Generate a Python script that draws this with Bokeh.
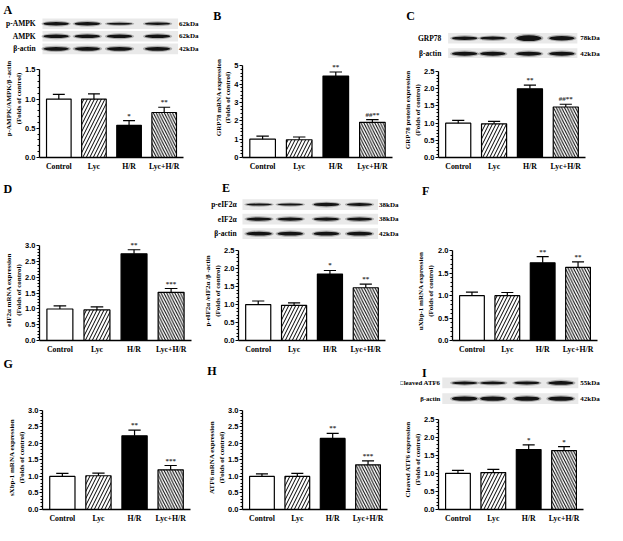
import math
from bokeh.plotting import figure
from bokeh.layouts import row, column
from bokeh.models import Range1d, FixedTicker, NumeralTickFormatter
from bokeh.embed import file_html
from bokeh.resources import INLINE
from bokeh.core.properties import value

# ---------------- data ----------------
categories = ["Control", "Lyc", "H/R", "Lyc+H/R"]

ampk_mean = [1.00, 1.00, 0.55, 0.77]
ampk_err = [0.08, 0.09, 0.08, 0.09]
ampk_sig = ["", "", "*", "**"]
ampk_ticks = [0.0, 0.5, 1.0, 1.5]

grp78_mrna_mean = [1.00, 0.97, 4.45, 1.92]
grp78_mrna_err = [0.17, 0.15, 0.22, 0.15]
grp78_mrna_sig = ["", "", "**", "##**"]
grp78_mrna_ticks = [0, 1, 2, 3, 4, 5]

grp78_prot_mean = [1.00, 0.98, 2.00, 1.47]
grp78_prot_err = [0.08, 0.07, 0.11, 0.08]
grp78_prot_sig = ["", "", "**", "##**"]
grp78_prot_ticks = [0.0, 0.5, 1.0, 1.5, 2.0, 2.5]

eif2a_mrna_mean = [1.00, 0.97, 2.75, 1.53]
eif2a_mrna_err = [0.10, 0.10, 0.13, 0.12]
eif2a_mrna_sig = ["", "", "**", "***"]
eif2a_mrna_ticks = [0.0, 0.5, 1.0, 1.5, 2.0, 2.5, 3.0]

peif2a_mean = [1.00, 0.98, 1.85, 1.47]
peif2a_err = [0.10, 0.07, 0.10, 0.10]
peif2a_sig = ["", "", "*", "**"]
peif2a_ticks = [0.0, 0.5, 1.0, 1.5, 2.0, 2.5]

uxbp1_mean = [1.00, 1.00, 1.73, 1.63]
uxbp1_err = [0.08, 0.07, 0.14, 0.12]
uxbp1_sig = ["", "", "**", "**"]
uxbp1_ticks = [0.0, 0.5, 1.0, 1.5, 2.0]

sxbp1_mean = [1.00, 1.02, 2.23, 1.20]
sxbp1_err = [0.09, 0.08, 0.17, 0.13]
sxbp1_sig = ["", "", "**", "***"]
sxbp1_ticks = [0.0, 0.5, 1.0, 1.5, 2.0, 2.5, 3.0]

atf6_mrna_mean = [1.00, 1.00, 2.15, 1.35]
atf6_mrna_err = [0.08, 0.09, 0.15, 0.12]
atf6_mrna_sig = ["", "", "**", "***"]
atf6_mrna_ticks = [0.0, 0.5, 1.0, 1.5, 2.0, 2.5, 3.0]

catf6_mean = [1.00, 1.02, 1.66, 1.63]
catf6_err = [0.08, 0.09, 0.13, 0.11]
catf6_sig = ["", "", "*", "*"]
catf6_ticks = [0.0, 0.5, 1.0, 1.5, 2.0, 2.5]

# western blot labels and band strengths (relative thickness)
blot_a_labels = ["p-AMPK", "AMPK", "β-actin"]
blot_a_kda = ["62kDa", "62kDa", "42kDa"]
blot_a_bands = [[3.5, 3.5, 2.0, 2.6], [3.6, 3.6, 3.6, 3.6], [4.0, 4.0, 4.0, 4.0]]

blot_c_labels = ["GRP78", "β-actin"]
blot_c_kda = ["78kDa", "42kDa"]
blot_c_bands = [[3.5, 3.3, 6.0, 4.5], [4.2, 4.2, 4.2, 4.2]]

blot_e_labels = ["p-eIF2α", "eIF2α", "β-actin"]
blot_e_kda = ["38kDa", "38kDa", "42kDa"]
blot_e_bands = [[2.0, 2.0, 3.5, 3.0], [3.5, 3.5, 3.5, 3.5], [4.0, 4.0, 4.0, 4.0]]

blot_i_labels = ["Cleaved ATF6", "β-actin"]
blot_i_kda = ["55kDa", "42kDa"]
blot_i_bands = [[3.0, 2.8, 3.2, 3.8], [4.5, 4.5, 4.5, 4.5]]

# ---------------- layout constants ----------------
SX = 607 / 623
SY = 525 / 541
COL_W = [205, 205, 213]
ROW_H = [178, 189, 174]
TOP_H = [60, 68, 50]
COL_PX = [200, 200, 207]
ROW_PX = [173, 183, 169]
TOP_PX = [round(t * SY) for t in TOP_H]

SERIF = "Liberation Serif"
SANS = "Liberation Sans"
NB = "\u00a0"

panels = [
    dict(letter="A", r=0, c=0, mean=ampk_mean, err=ampk_err, sig=ampk_sig, ticks=ampk_ticks,
         ylab=["p-AMPK/AMPK/β -actin", "(Folds of control)"], lift=12, frame=(40, 188, 72, 166),
         ystand=-1, lpos=(3, 3),
         blot=dict(labels=blot_a_labels, kda=blot_a_kda, bands=blot_a_bands, x0=43, x1=182,
                   ys=[24, 37, 50], lanes=[57, 89, 122, 161], lx=36, kx=183, lfs="7.5px")),
    dict(letter="B", r=0, c=1, mean=grp78_mrna_mean, err=grp78_mrna_err, sig=grp78_mrna_sig,
         ticks=grp78_mrna_ticks, ylab=["GRP78 mRNA expression", "(Folds of control)"], lift=12,
         frame=(43, 197, 68, 166), ystand=-1, lpos=(13, 9), blot=None),
    dict(letter="C", r=0, c=2, mean=grp78_prot_mean, err=grp78_prot_err, sig=grp78_prot_sig,
         ticks=grp78_prot_ticks, ylab=["GRP78 protein expression", "(Folds of control)"], lift=0,
         frame=(39, 190, 74, 168), ystand=-1, lpos=(6, 9),
         blot=dict(labels=blot_c_labels, kda=blot_c_kda, bands=blot_c_bands, x0=49, x1=182,
                   ys=[39, 55], lanes=[66, 95, 132, 166], lx=42, kx=185, lfs="7.5px")),
    dict(letter="D", r=1, c=0, mean=eif2a_mrna_mean, err=eif2a_mrna_err, sig=eif2a_mrna_sig,
         ticks=eif2a_mrna_ticks, ylab=["eIF2α mRNA expression", "(Folds of control)"], lift=0,
         frame=(40, 196, 75, 177), ystand=-1, lpos=(3, 9), blot=None),
    dict(letter="E", r=1, c=1, mean=peif2a_mean, err=peif2a_err, sig=peif2a_sig,
         ticks=peif2a_ticks, ylab=["p-eIF2α /eIF2α /β -actin", "(Folds of control)"], lift=0,
         frame=(39, 190, 80, 177), ystand=-1, lpos=(22, 8),
         blot=dict(labels=blot_e_labels, kda=blot_e_kda, bands=blot_e_bands, x0=43, x1=182,
                   ys=[32, 47, 62], lanes=[60, 92, 129, 163], lx=37, kx=183, lfs="7.5px")),
    dict(letter="F", r=1, c=2, mean=uxbp1_mean, err=uxbp1_err, sig=uxbp1_sig,
         ticks=uxbp1_ticks, ylab=["uXbp-1 mRNA expression", "(Folds of control)"], lift=0,
         frame=(53, 202, 80, 177), ystand=0, lpos=(22, 11), blot=None),
    dict(letter="G", r=2, c=0, mean=sxbp1_mean, err=sxbp1_err, sig=sxbp1_sig,
         ticks=sxbp1_ticks, ylab=["sXbp-1 mRNA expression", "(Folds of control)"], lift=0,
         frame=(43, 195, 55, 159), ystand=-1, lpos=(3, 1), blot=None),
    dict(letter="H", r=2, c=1, mean=atf6_mrna_mean, err=atf6_mrna_err, sig=atf6_mrna_sig,
         ticks=atf6_mrna_ticks, ylab=["ATF6 mRNA expression", "(Folds of control)"], lift=0,
         frame=(43, 192, 55, 159), ystand=-1, lpos=(7, 8), blot=None),
    dict(letter="I", r=2, c=2, mean=catf6_mean, err=catf6_err, sig=catf6_sig,
         ticks=catf6_ticks, ylab=["Cleaved ATF6 expression", "(Folds of control)"], lift=0,
         frame=(39, 188, 64, 158), ystand=-1, lpos=(22, 10),
         blot=dict(labels=blot_i_labels, kda=blot_i_kda, bands=blot_i_bands, x0=43, x1=183,
                   ys=[27, 43], lanes=[66, 95, 130, 165], lx=41, kx=185, lfs="6.8px")),
]

BAR_STYLES = [
    dict(fill_color="white"),
    dict(fill_color="white", hatch_pattern="/", hatch_scale=7, hatch_color="black", hatch_weight=1),
    dict(fill_color="black"),
    dict(fill_color="white", hatch_pattern="\\", hatch_scale=5.5, hatch_color="black", hatch_weight=1),
]


def make_top(pn):
    r, c = pn["r"], pn["c"]
    t = figure(width=COL_PX[c], height=TOP_PX[r], x_range=Range1d(0, COL_W[c]),
               y_range=Range1d(TOP_H[r], 0), output_backend="svg", toolbar_location=None,
               min_border=0, min_border_left=0, min_border_right=0, min_border_top=0,
               min_border_bottom=0, x_axis_type=None, y_axis_type=None, frame_align=False)
    t.outline_line_color = None
    t.background_fill_color = "white"
    t.border_fill_color = "white"
    t.text(x=[pn["lpos"][0]], y=[pn["lpos"][1]], text=[pn["letter"]], text_baseline="top",
           text_align="left", text_font=value(SERIF), text_font_style="bold",
           text_font_size="12px", text_color="black")
    b = pn["blot"]
    if b is not None:
        n = len(b["labels"])
        t.rect(x=[(b["x0"] + b["x1"]) / 2] * n, y=b["ys"], width=b["x1"] - b["x0"], height=11,
               fill_color="#e9e9e9", line_color=None)
        bx, by, bh = [], [], []
        for k in range(n):
            for j, lane in enumerate(b["lanes"]):
                bx.append(lane)
                by.append(b["ys"][k])
                bh.append(b["bands"][k][j])
        t.ellipse(x=bx, y=by, width=30, height=[h + 2.5 for h in bh], fill_color="#666666",
                  fill_alpha=0.45, line_color=None)
        t.ellipse(x=bx, y=by, width=26, height=bh, fill_color="#141414", line_color=None)
        t.text(x=[b["lx"]] * n, y=b["ys"], text=b["labels"], text_align="right",
               text_baseline="middle", text_font=value(SERIF), text_font_style="bold",
               text_font_size=b["lfs"], text_color="black")
        t.text(x=[b["kx"]] * n, y=b["ys"], text=b["kda"], text_align="left",
               text_baseline="middle", text_font=value(SERIF), text_font_style="bold",
               text_font_size="7px", text_color="black")
    return t


def make_chart(pn):
    r, c = pn["r"], pn["c"]
    wpx = COL_PX[c]
    hpx = ROW_PX[r] - TOP_PX[r]
    L, R, T, B = pn["frame"]
    ticks = pn["ticks"]
    ymax = ticks[-1]
    pad = min(10, T - TOP_H[r])
    y_end = ymax * (B - T + pad) / (B - T)
    bt = round((T - pad - TOP_H[r]) * SY)
    fh = round((B - T + pad) * SY)
    bb = hpx - bt - fh
    bl = round(L * SX)
    br = wpx - bl - round((R - L) * SX)
    p = figure(width=wpx, height=hpx, x_range=Range1d(0.45, 4.55), y_range=Range1d(0, y_end),
               output_backend="svg", toolbar_location=None, min_border_left=bl,
               min_border_right=br, min_border_top=bt, min_border_bottom=bb,
               frame_align=False)
    p.outline_line_color = None
    p.xgrid.visible = False
    p.ygrid.visible = False
    p.background_fill_color = "white"
    p.border_fill_color = "white"

    xs = list(range(1, len(categories) + 1))
    means = pn["mean"]
    errs = pn["err"]
    tops = [m + e for m, e in zip(means, errs)]
    for i in range(len(xs)):
        p.vbar(x=[xs[i]], top=[means[i]], width=0.7, bottom=0, line_color="black",
               line_width=1.2, **BAR_STYLES[i])
    p.segment(x0=xs, y0=means, x1=xs, y1=tops, line_color="black", line_width=1.2)
    p.segment(x0=[x - 0.17 for x in xs], y0=tops, x1=[x + 0.17 for x in xs], y1=tops,
              line_color="black", line_width=1.2)
    p.text(x=xs, y=tops, text=pn["sig"], text_align="center", text_baseline="bottom",
           y_offset=-1, text_font=value(SERIF), text_font_style="bold", text_font_size="7px",
           text_color="#333333")

    # x axis
    p.xaxis.ticker = FixedTicker(ticks=xs)
    p.xaxis.major_label_overrides = {x: cat for x, cat in zip(xs, categories)}
    p.xaxis.major_tick_line_color = None
    p.xaxis.minor_tick_line_color = None
    p.xaxis.major_tick_out = 0
    p.xaxis.major_tick_in = 0
    p.xaxis.axis_line_width = 1.3
    p.xaxis.major_label_standoff = 4
    p.xaxis.major_label_text_font = SERIF
    p.xaxis.major_label_text_font_style = "bold"
    p.xaxis.major_label_text_font_size = "7.8px"
    p.xaxis.major_label_text_color = "black"

    # y axis
    step = ticks[1] - ticks[0]
    mstep = step / 5
    minor = [round(k * mstep, 4) for k in range(int(round(ymax / mstep)) + 1)]
    minor = [m for m in minor if all(abs(m - tk) > 1e-6 for tk in ticks)]
    p.yaxis.ticker = FixedTicker(ticks=ticks, minor_ticks=minor)
    p.yaxis.formatter = NumeralTickFormatter(format="0.0" if step < 1 else "0")
    p.yaxis.bounds = (0, ymax)
    p.yaxis.axis_line_width = 1.3
    p.yaxis.major_tick_out = 3
    p.yaxis.major_tick_in = 0
    p.yaxis.minor_tick_out = 2
    p.yaxis.minor_tick_in = 0
    p.yaxis.major_tick_line_width = 1.2
    p.yaxis.major_label_standoff = 1
    p.yaxis.major_label_text_font = SANS
    p.yaxis.major_label_text_font_style = "bold"
    p.yaxis.major_label_text_font_size = "7.5px"
    p.yaxis.major_label_text_color = "black"
    pad_txt = NB * pn["lift"]
    p.yaxis.axis_label = "\n".join(pad_txt + line for line in pn["ylab"])
    p.yaxis.axis_label_standoff = pn["ystand"]
    p.yaxis.axis_label_text_font = SERIF
    p.yaxis.axis_label_text_font_style = "bold"
    p.yaxis.axis_label_text_font_size = "7px"
    p.yaxis.axis_label_text_color = "black"
    return p


cells = [[None] * 3 for _ in range(3)]
for pn in panels:
    cells[pn["r"]][pn["c"]] = column(make_top(pn), make_chart(pn), spacing=0)

layout = column(*[row(*cells[r], spacing=0) for r in range(3)], spacing=0)

open("out.html", "w").write(file_html(layout, INLINE, title="Lycopene ER stress"))
